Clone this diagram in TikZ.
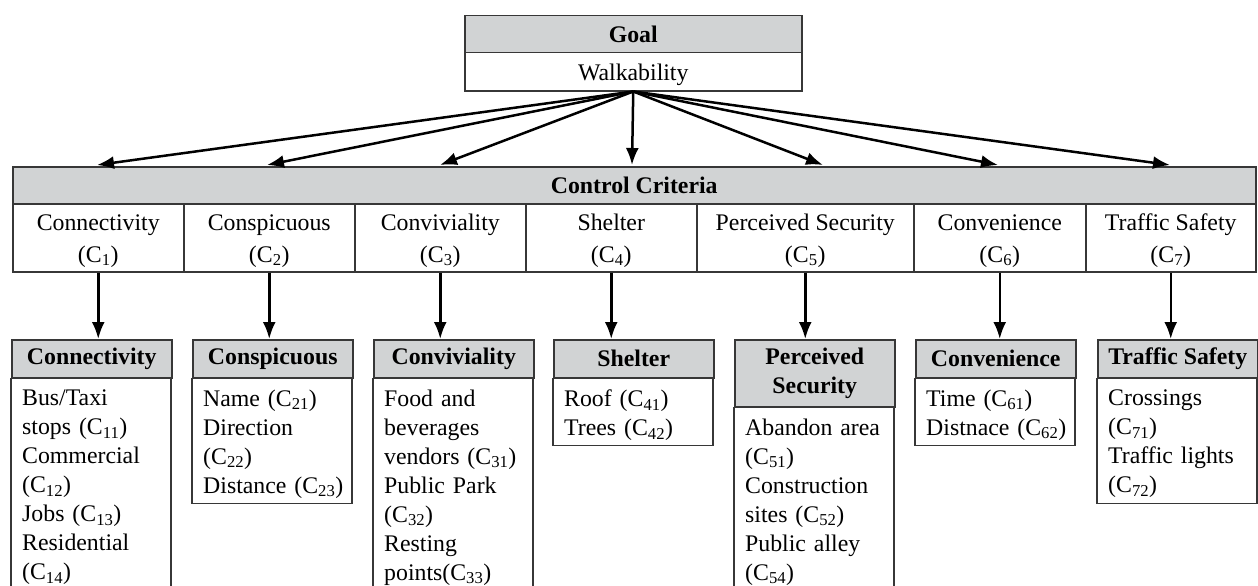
\documentclass[tikz,border=0pt]{standalone}
\usepackage{fontspec}
\setmainfont{Liberation Serif}
\usepackage{tikz}
\usetikzlibrary{positioning,arrows.meta}
\usepackage{xcolor}
\definecolor{hdrgray}{RGB}{209,211,212}
\definecolor{edgegray}{RGB}{55,55,55}
\newcommand{\bodyfont}{\fontsize{23.8pt}{29pt}\selectfont}
\newcommand{\cc}[1]{(C\textsubscript{#1})}
\newcommand{\toprule}{\rule{0pt}{22pt}}

\begin{document}
\begin{tikzpicture}[x=1pt,y=-1pt,
  hdr/.style={draw=edgegray, line width=1.5pt, fill=hdrgray, font=\bfseries,
    inner sep=0pt, anchor=north west, align=center},
  cell/.style={draw=edgegray, line width=1.5pt, fill=white,
    inner sep=0pt, anchor=north west, align=center},
  boxline/.style={draw=edgegray, line width=1.5pt},
  txt/.style={inner sep=0pt, text width=148pt, align=left},
  arr/.style={line width=2.5pt, -{Latex[length=17pt,width=13pt]}}]
\bodyfont
\clip (0,0) rectangle (1258,586);
\fill[white] (0,0) rectangle (1258,586);

% goal
\node[hdr, minimum width=337pt, minimum height=37pt] (goal) at (464,15) {Goal};
\node[cell, minimum width=337pt, minimum height=38pt] (walk) at (464,52) {\toprule Walkability};

% control criteria
\node[hdr, minimum width=1243pt, minimum height=37pt] (crit) at (12,166) {Control Criteria};
\node[cell, minimum width=171pt, minimum height=68pt] (c1) at (12,203) {\toprule Connectivity\\[3pt]\cc{1}};
\node[cell, minimum width=171pt, minimum height=68pt] (c2) at (183,203) {\toprule Conspicuous\\[3pt]\cc{2}};
\node[cell, minimum width=171pt, minimum height=68pt] (c3) at (354,203) {\toprule Conviviality\\[3pt]\cc{3}};
\node[cell, minimum width=171pt, minimum height=68pt] (c4) at (525,203) {\toprule Shelter\\[3pt]\cc{4}};
\node[cell, minimum width=217pt, minimum height=68pt] (c5) at (696,203) {\toprule Perceived Security\\[3pt]\cc{5}};
\node[cell, minimum width=172pt, minimum height=68pt] (c6) at (913,203) {\toprule Convenience\\[3pt]\cc{6}};
\node[cell, minimum width=170pt, minimum height=68pt] (c7) at (1085,203) {\toprule Traffic Safety\\[3pt]\cc{7}};

\coordinate (t1) at (97,165);
\coordinate (t2) at (267,165);
\coordinate (t3) at (440,165);
\coordinate (t4) at (632,165);
\coordinate (t5) at (823,165);
\coordinate (t6) at (998,165);
\coordinate (t7) at (1170,165);
\foreach \t in {t1,t2,t3,t4,t5,t6,t7}
  \draw[arr] (walk.south) -- (\t);

% sub criteria
\node[hdr, minimum width=160pt, minimum height=38pt] (h1) at (11,339) {Connectivity};
\node[hdr, minimum width=160pt, minimum height=38pt] (h2) at (192,339) {Conspicuous};
\node[hdr, minimum width=160pt, minimum height=38pt] (h3) at (373,339) {Conviviality};
\node[hdr, minimum width=160pt, minimum height=38pt] (h4) at (553,339) {Shelter};
\node[hdr, minimum width=160pt, minimum height=67pt] (h5) at (734,339) {Perceived\\Security};
\node[hdr, minimum width=160pt, minimum height=38pt] (h6) at (915,339) {Convenience};
\node[hdr, minimum width=160pt, minimum height=38pt] (h7) at (1097,339) {Traffic Safety};

\draw[boxline] (h1.south west) rectangle ++(160,220);
\draw[boxline] (h2.south west) rectangle ++(160,125);
\draw[boxline] (h3.south west) rectangle ++(160,220);
\draw[boxline] (h4.south west) rectangle ++(160,67);
\draw[boxline] (h5.south west) rectangle ++(160,191);
\draw[boxline] (h6.south west) rectangle ++(160,67);
\draw[boxline] (h7.south west) rectangle ++(160,125);

\node[txt, below right=11pt and 11pt of h1.south west] (l1) {Bus/Taxi\\stops \cc{11}\\Commercial\\\cc{12}\\Jobs \cc{13}\\Residential\\\cc{14}};
\node[txt, below right=11pt and 11pt of h2.south west] (l2) {Name \cc{21}\\Direction\\\cc{22}\\Distance \cc{23}};
\node[txt, below right=11pt and 11pt of h3.south west] (l3) {Food and\\beverages\\vendors \cc{31}\\Public Park\\\cc{32}\\Resting\\points\cc{33}};
\node[txt, below right=11pt and 11pt of h4.south west] (l4) {Roof \cc{41}\\Trees \cc{42}};
\node[txt, below right=11pt and 11pt of h5.south west] (l5) {Abandon area\\\cc{51}\\Construction\\sites \cc{52}\\Public alley\\\cc{54}};
\node[txt, below right=11pt and 11pt of h6.south west] (l6) {Time \cc{61}\\Distnace \cc{62}};
\node[txt, below right=11pt and 11pt of h7.south west] (l7) {Crossings\\\cc{71}\\Traffic lights\\\cc{72}};

\draw[arr] (c1.south) -- (c1.south |- h1.north);
\draw[arr] (c2.south) -- (c2.south |- h2.north);
\draw[arr] (c3.south) -- (c3.south |- h3.north);
\draw[arr] (c4.south) -- (c4.south |- h4.north);
\draw[arr] (c5.south) -- (c5.south |- h5.north);
\draw[arr] (c6.south) -- (c6.south |- h6.north);
\draw[arr] (c7.south) -- (c7.south |- h7.north);
\end{tikzpicture}
\end{document}
